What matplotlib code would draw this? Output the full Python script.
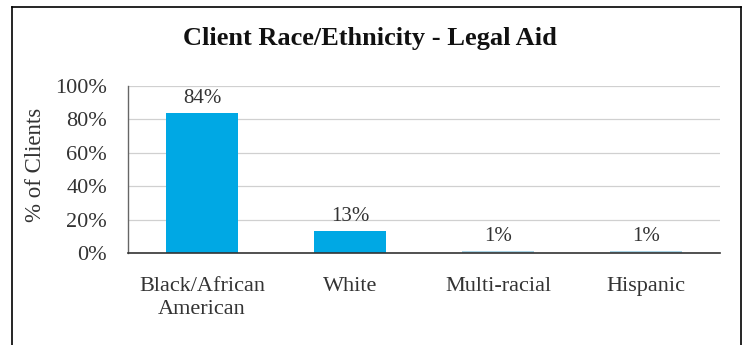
import matplotlib
matplotlib.use("Agg")
import matplotlib.pyplot as plt
from matplotlib.lines import Line2D

categories = ["Black/African\nAmerican", "White", "Multi-racial", "Hispanic"]
values = [84, 13, 1, 1]
value_labels = ["84%", "13%", "1%", "1%"]
yticks = [0, 20, 40, 60, 80, 100]
ytick_labels = ["0%", "20%", "40%", "60%", "80%", "100%"]

W, H = 747, 345
fig = plt.figure(figsize=(W / 100, H / 100), dpi=100)
fig.patch.set_facecolor("white")

serif = ["Liberation Serif", "DejaVu Serif"]
ax = fig.add_axes([128 / W, 1 - 253 / H, (720 - 128) / W, (253 - 86) / H])

x = range(len(categories))
colors = ["#00A8E4", "#00A8E4", "#A9D4E6", "#A9D4E6"]
ax.bar(x, values, width=0.48, color=colors, zorder=3)

for xi, v, lab in zip(x, values, value_labels):
    ax.annotate(lab, (xi, v), xytext=(0, 3.5), textcoords="offset points",
                ha="center", va="bottom", fontsize=15, family=serif, color="#333333")

ax.set_xlim(-0.5, len(categories) - 0.5)
ax.set_ylim(0, 100)
ax.set_yticks(yticks)
ax.set_yticklabels(ytick_labels, family=serif, fontsize=16, color="#333333")
ax.set_xticks(list(x))
ax.set_xticklabels(categories, family=serif, fontsize=16, color="#333333", linespacing=1.3)
ax.tick_params(axis="both", length=0)
ax.tick_params(axis="y", pad=15)
ax.tick_params(axis="x", pad=17)
ax.grid(axis="y", color="#D0D0D0", linewidth=0.9, zorder=0)

for s in ["top", "right"]:
    ax.spines[s].set_visible(False)
ax.spines["left"].set_color("#666666")
ax.spines["left"].set_linewidth(1.0)
ax.spines["bottom"].set_color("#333333")
ax.spines["bottom"].set_linewidth(1.2)
ax.spines["bottom"].set_zorder(4)

ax.set_ylabel("% of Clients", family=serif, fontsize=16.5, color="#333333")
ax.yaxis.set_label_coords((46 - 128) / (720 - 128), (253 - 165) / (253 - 86))

fig.text(370 / W, 1 - 38 / H, "Client Race/Ethnicity - Legal Aid", ha="center", va="center",
         family=serif, fontsize=19, fontweight="bold", color="#111111")

# outer frame (left, top, right edges)
frame_kw = dict(color="black", linewidth=1.2, transform=fig.transFigure)
fig.add_artist(Line2D([12 / W, 12 / W], [0, 1 - 7 / H], **frame_kw))
fig.add_artist(Line2D([741 / W, 741 / W], [0, 1 - 7 / H], **frame_kw))
fig.add_artist(Line2D([12 / W, 741 / W], [1 - 7 / H, 1 - 7 / H], **frame_kw))

fig.savefig("out.png", dpi=100)
